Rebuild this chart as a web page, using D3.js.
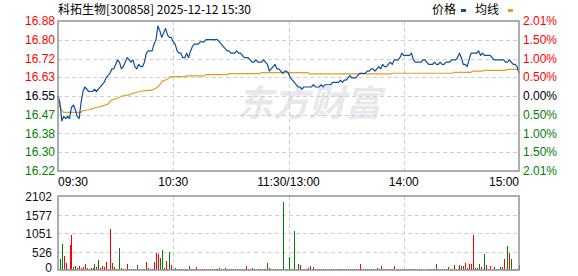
<!DOCTYPE html>
<html>
<head>
<meta charset="utf-8">
<script src="https://cdn.jsdelivr.net/npm/d3@7"></script>
<style>
  html, body { margin: 0; padding: 0; background: #fff; }
  svg { display: block; }
</style>
</head>
<body>
<div id="chart"></div>
<script>
// Chart values
const title = "科拓生物[300858] 2025-12-12 15:30";
const prevClose = 16.55;
const priceLabels = ["16.88", "16.80", "16.72", "16.63", "16.55", "16.47", "16.38", "16.30", "16.22"];
const pctLabels = ["2.01%", "1.50%", "1.00%", "0.50%", "0.00%", "0.50%", "1.00%", "1.50%", "2.01%"];
const volLabels = ["2102", "1577", "1051", "526", "0"];
const timeLabels = [
  { i: 0, t: "09:30", anchor: "start" },
  { i: 60, t: "10:30", anchor: "middle" },
  { i: 120, t: "11:30/13:00", anchor: "middle" },
  { i: 180, t: "14:00", anchor: "middle" },
  { i: 240, t: "15:00", anchor: "end" }
];

// one value per minute, 241 minutes
const price = [
  16.55,16.52,16.44,16.46,16.45,16.46,16.45,16.50,16.51,16.49,
  16.46,16.45,16.52,16.57,16.59,16.58,16.57,16.57,16.57,16.58,
  16.57,16.58,16.59,16.60,16.61,16.63,16.64,16.65,16.67,16.67,
  16.69,16.71,16.70,16.67,16.68,16.70,16.72,16.71,16.70,16.71,
  16.68,16.67,16.69,16.68,16.68,16.70,16.74,16.75,16.75,16.75,
  16.78,16.80,16.86,16.84,16.81,16.83,16.85,16.82,16.81,16.81,
  16.79,16.78,16.75,16.74,16.74,16.72,16.72,16.74,16.72,16.75,
  16.77,16.78,16.78,16.78,16.79,16.79,16.79,16.80,16.80,16.80,
  16.80,16.80,16.80,16.80,16.79,16.78,16.77,16.76,16.75,16.75,
  16.74,16.74,16.74,16.75,16.74,16.74,16.73,16.72,16.72,16.72,
  16.71,16.70,16.70,16.71,16.70,16.70,16.70,16.71,16.70,16.69,
  16.66,16.67,16.68,16.69,16.67,16.67,16.66,16.65,16.66,16.66,
  16.65,16.63,16.62,16.61,16.60,16.59,16.59,16.58,16.59,16.59,
  16.59,16.59,16.59,16.60,16.59,16.59,16.59,16.60,16.59,16.60,
  16.60,16.60,16.60,16.61,16.61,16.61,16.61,16.62,16.61,16.62,
  16.62,16.63,16.64,16.63,16.63,16.63,16.64,16.65,16.65,16.65,
  16.65,16.66,16.66,16.67,16.67,16.66,16.67,16.68,16.67,16.69,
  16.68,16.68,16.69,16.70,16.69,16.71,16.71,16.71,16.72,16.74,
  16.73,16.73,16.73,16.73,16.74,16.71,16.70,16.70,16.70,16.70,
  16.71,16.71,16.70,16.69,16.69,16.69,16.70,16.69,16.69,16.70,
  16.69,16.69,16.70,16.70,16.70,16.71,16.71,16.71,16.72,16.74,
  16.72,16.69,16.69,16.68,16.71,16.74,16.74,16.74,16.74,16.75,
  16.73,16.74,16.73,16.73,16.73,16.73,16.72,16.71,16.71,16.71,
  16.71,16.71,16.71,16.70,16.70,16.71,16.70,16.69,16.69,16.68,
  16.65
];

const avgPrice = [
  16.547,16.500,16.485,16.477,16.477,16.477,16.477,16.477,16.477,16.477,
  16.477,16.477,16.477,16.485,16.486,16.488,16.489,16.491,16.494,16.497,
  16.500,16.501,16.503,16.506,16.507,16.512,16.514,16.525,16.532,16.535,
  16.538,16.540,16.544,16.550,16.550,16.553,16.554,16.554,16.559,16.562,
  16.565,16.566,16.569,16.571,16.572,16.574,16.574,16.575,16.575,16.577,
  16.580,16.584,16.591,16.599,16.614,16.618,16.621,16.624,16.633,16.636,
  16.636,16.636,16.636,16.636,16.636,16.636,16.636,16.639,16.639,16.639,
  16.639,16.639,16.639,16.639,16.639,16.639,16.639,16.645,16.645,16.645,
  16.645,16.645,16.645,16.645,16.645,16.645,16.645,16.645,16.645,16.649,
  16.649,16.649,16.649,16.649,16.649,16.649,16.649,16.649,16.649,16.649,
  16.649,16.649,16.649,16.649,16.649,16.649,16.654,16.654,16.654,16.654,
  16.654,16.654,16.654,16.654,16.654,16.654,16.654,16.654,16.654,16.654,
  16.654,16.654,16.654,16.654,16.654,16.654,16.654,16.654,16.654,16.654,
  16.654,16.648,16.648,16.648,16.648,16.648,16.648,16.648,16.648,16.648,
  16.648,16.648,16.648,16.648,16.648,16.648,16.648,16.648,16.648,16.648,
  16.648,16.648,16.648,16.648,16.648,16.648,16.648,16.648,16.648,16.648,
  16.648,16.648,16.648,16.648,16.648,16.648,16.648,16.648,16.648,16.648,
  16.648,16.648,16.648,16.648,16.651,16.651,16.651,16.651,16.651,16.651,
  16.651,16.651,16.651,16.651,16.651,16.651,16.651,16.651,16.651,16.651,
  16.651,16.651,16.651,16.651,16.651,16.651,16.651,16.651,16.651,16.651,
  16.651,16.651,16.651,16.651,16.651,16.651,16.655,16.655,16.655,16.655,
  16.655,16.655,16.655,16.655,16.655,16.655,16.660,16.660,16.660,16.660,
  16.660,16.660,16.664,16.664,16.664,16.664,16.664,16.664,16.664,16.664,
  16.664,16.664,16.664,16.664,16.668,16.668,16.668,16.668,16.668,16.668,
  16.668
];

const volume = [
  0,312,729,398,189,28,710,994,95,114,
  47,114,47,95,161,47,28,47,47,161,
  85,275,66,123,95,218,28,1165,189,85,
  28,28,615,47,28,28,161,28,28,28,
  28,142,28,28,28,28,218,66,28,28,
  218,473,445,331,558,47,256,28,502,142,
  28,47,28,28,28,28,28,28,114,28,
  28,28,76,28,28,28,28,28,28,28,
  28,28,28,28,47,28,28,47,28,28,
  28,28,28,28,28,28,28,28,114,28,
  28,47,28,28,28,28,28,28,28,189,
  66,28,28,28,28,28,28,1922,28,28,
  369,28,28,1108,28,170,142,28,28,28,
  66,114,28,85,28,28,28,28,28,28,
  28,28,28,28,28,28,28,28,28,28,
  28,28,28,28,28,28,28,170,28,28,
  28,28,28,28,28,28,57,28,114,28,
  28,28,28,28,28,114,28,28,28,28,
  28,28,28,28,28,28,28,28,28,28,
  0,0,28,28,28,28,28,170,28,28,
  28,28,28,85,28,28,142,28,28,142,
  114,114,199,66,170,170,994,66,66,170,
  85,28,454,142,28,114,28,85,28,28,
  85,85,312,28,682,483,312,28,28,28,
  142
];

// r = up minute, g = down minute
const volDir =
  "gggrrgrrgg" + "rrrrrgrrrg" + "rgrrrrrrrg" + "rrggrrrrgg" + "rgrgrgrrrr" +
  "rrrggrrggr" + "ggggrrgrgr" + "rrrrrrrrrr" + "rrrggrrgrr" + "rrgrrggrrg" +
  "rgrrrrrrrg" + "grrrggggrr" + "ggggrrgrrr" + "rrrgrrrrrr" + "grrrrrgrgg" +
  "grrggrrrrr" + "rrrgrggrrr" + "grrrgrrgrr" + "ggrgrrgrrr" + "rrrgggrggg" +
  "rrrrrggrrr" + "rgrgrrrrgg" + "rrgrrrgrgg" + "grrggrgrrg" + "g";

const width = 578;
const height = 276;
const left = 58, right = 519;
const pTop = 21, pBottom = 171;
const vTop = 196, vBottom = 270;

const numFont = "'Liberation Sans', Arial, sans-serif";
const cjkFont = "'Noto Sans CJK SC', sans-serif";
const red = "#ff0000", green = "#008000";
const gridColor = "#cfcfcf";
const frameColor = "#939393";

const x = d3.scaleLinear().domain([0, 240]).range([left, right]);
const yP = d3.scaleLinear()
  .domain([prevClose * (1 - 0.0201), prevClose * (1 + 0.0201)])
  .range([pBottom, pTop]);
const yV = d3.scaleLinear().domain([0, 2102]).range([vBottom, vTop]);

const svg = d3.create("svg")
  .attr("width", width)
  .attr("height", height)
  .attr("viewBox", [0, 0, width, height]);

// title and legend
svg.append("text")
  .attr("x", left).attr("y", 14)
  .attr("font-family", cjkFont).attr("font-size", 12)
  .attr("fill", "#000")
  .text(title);

const legend = svg.append("g").attr("font-family", cjkFont).attr("font-size", 12);
legend.append("text").attr("x", 432).attr("y", 14).text("价格");
legend.append("rect").attr("x", 461).attr("y", 9).attr("width", 5).attr("height", 3).attr("fill", "#0b4f9e");
legend.append("text").attr("x", 475).attr("y", 14).text("均线");
legend.append("rect").attr("x", 508).attr("y", 9).attr("width", 5).attr("height", 3).attr("fill", "#e0a020");

// watermark
svg.append("text")
  .attr("x", 237).attr("y", 116)
  .attr("font-family", cjkFont).attr("font-size", 36).attr("font-weight", "bold")
  .attr("font-style", "italic")
  .attr("fill", "#e8e8ec")
  .text("东方财富");

// grids
const priceTicks = d3.range(9).map(k => yP.domain()[1] - k * (yP.domain()[1] - yP.domain()[0]) / 8);
const volTicks = d3.range(5).map(k => 2102 - k * 2102 / 4);
const vLines = [60, 120, 180];

const grid = svg.append("g")
  .attr("stroke", gridColor).attr("stroke-width", 1).attr("stroke-dasharray", "4,3");
grid.selectAll(".hp").data(priceTicks.slice(1, -1)).join("line")
  .attr("x1", left).attr("x2", right)
  .attr("y1", d => Math.round(yP(d)) + 0.5).attr("y2", d => Math.round(yP(d)) + 0.5);
grid.selectAll(".vp").data(vLines).join("line")
  .attr("x1", d => Math.round(x(d)) + 0.5).attr("x2", d => Math.round(x(d)) + 0.5)
  .attr("y1", pTop).attr("y2", pBottom);
grid.selectAll(".hv").data(volTicks.slice(1, -1)).join("line")
  .attr("x1", left).attr("x2", right)
  .attr("y1", d => Math.round(yV(d)) + 0.5).attr("y2", d => Math.round(yV(d)) + 0.5);
grid.selectAll(".vv").data(vLines).join("line")
  .attr("x1", d => Math.round(x(d)) + 0.5).attr("x2", d => Math.round(x(d)) + 0.5)
  .attr("y1", vTop).attr("y2", vBottom);

// volume bars
svg.append("g")
  .selectAll("rect")
  .data(volume)
  .join("rect")
  .attr("x", (d, i) => Math.round(x(i)))
  .attr("width", 1)
  .attr("y", d => yV(d))
  .attr("height", d => vBottom - yV(d))
  .attr("fill", (d, i) => volDir[i] === "r" ? red : green)
  .attr("shape-rendering", "crispEdges");

// average and price lines
svg.append("path")
  .datum(avgPrice)
  .attr("fill", "none")
  .attr("stroke", "#e0a020")
  .attr("stroke-width", 1.2)
  .attr("d", d3.line().x((d, i) => x(i)).y(d => yP(d)));

svg.append("path")
  .datum(price)
  .attr("fill", "none")
  .attr("stroke", "#0b4f9e")
  .attr("stroke-width", 1.2)
  .attr("stroke-linejoin", "round")
  .attr("d", d3.line().x((d, i) => x(i)).y(d => yP(d)));

// frames
svg.append("rect")
  .attr("x", left).attr("y", pTop).attr("width", right - left).attr("height", pBottom - pTop)
  .attr("fill", "none").attr("stroke", frameColor).attr("stroke-width", 1.5);
svg.append("rect")
  .attr("x", left).attr("y", vTop).attr("width", right - left).attr("height", vBottom - vTop)
  .attr("fill", "none").attr("stroke", frameColor).attr("stroke-width", 1.5);

// axis labels
const labelColor = k => k < 4 ? red : (k === 4 ? "#000" : green);

svg.append("g")
  .attr("font-family", numFont).attr("font-size", 12).attr("text-anchor", "end")
  .selectAll("text").data(priceTicks).join("text")
  .attr("x", 55).attr("y", d => yP(d)).attr("dy", "0.35em")
  .attr("fill", (d, k) => labelColor(k))
  .text((d, k) => priceLabels[k]);

svg.append("g")
  .attr("font-family", numFont).attr("font-size", 12).attr("text-anchor", "start")
  .selectAll("text").data(priceTicks).join("text")
  .attr("x", 523).attr("y", d => yP(d)).attr("dy", "0.35em")
  .attr("fill", (d, k) => labelColor(k))
  .text((d, k) => pctLabels[k]);

svg.append("g")
  .attr("font-family", numFont).attr("font-size", 12).attr("text-anchor", "end")
  .attr("fill", "#111")
  .selectAll("text").data(volTicks).join("text")
  .attr("x", 52).attr("y", d => Math.min(yV(d) + 5, 272))
  .text((d, k) => volLabels[k]);

svg.append("g")
  .attr("font-family", numFont).attr("font-size", 12).attr("fill", "#000")
  .selectAll("text").data(timeLabels).join("text")
  .attr("x", d => x(d.i)).attr("y", 186)
  .attr("text-anchor", d => d.anchor)
  .text(d => d.t);

document.getElementById("chart").appendChild(svg.node());
</script>
</body>
</html>
